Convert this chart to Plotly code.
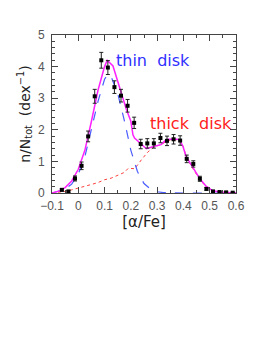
import plotly.graph_objects as go

# observed data points
obs_x = [-0.0625, -0.0375, -0.0125, 0.0125, 0.0375, 0.0625, 0.0875, 0.1125, 0.1375,
         0.1625, 0.1875, 0.2125, 0.2375, 0.2625, 0.2875, 0.3125, 0.3375, 0.3625,
         0.3875, 0.4125, 0.4375, 0.4625, 0.4875, 0.5125, 0.5375, 0.5625, 0.5875]
obs_y = [0.10, 0.05, 0.46, 0.86, 1.79, 3.06, 4.20, 3.97, 3.35,
         3.08, 2.76, 2.22, 1.55, 1.57, 1.57, 1.74, 1.65, 1.70,
         1.66, 1.08, 0.92, 0.45, 0.13, 0.05, 0.03, 0.02, 0.01]
obs_err = [0.04, 0.03, 0.08, 0.12, 0.17, 0.22, 0.25, 0.22, 0.2,
           0.2, 0.2, 0.18, 0.15, 0.15, 0.15, 0.15, 0.15, 0.15,
           0.15, 0.12, 0.1, 0.08, 0.04, 0.03, 0.02, 0.02, 0.01]

# thin disk model (blue dashed)
thin_x = [-0.1, -0.075, -0.05, -0.025, 0.0, 0.025, 0.05, 0.075, 0.1, 0.1125, 0.125,
          0.15, 0.175, 0.2, 0.225, 0.25, 0.275, 0.3, 0.325, 0.35, 0.4, 0.5, 0.6]
thin_y = [0.0, 0.05, 0.12, 0.28, 0.6, 1.15, 2.0, 2.9, 3.6, 3.75, 3.68,
          3.15, 2.3, 1.35, 0.68, 0.3, 0.12, 0.04, 0.01, 0.0, 0.0, 0.0, 0.0]

# thick disk model (red dotted)
thick_x = [-0.1, -0.075, -0.05, -0.025, 0.0, 0.025, 0.05, 0.075, 0.1, 0.125, 0.15,
           0.175, 0.19, 0.2, 0.215, 0.24, 0.265, 0.29, 0.315, 0.34, 0.365, 0.385,
           0.4, 0.41, 0.435, 0.46, 0.485, 0.51, 0.55, 0.6]
thick_y = [0.0, 0.02, 0.05, 0.1, 0.15, 0.2, 0.27, 0.33, 0.42, 0.47, 0.55,
           0.65, 0.78, 0.78, 0.77, 1.05, 1.3, 1.47, 1.53, 1.66, 1.69, 1.67,
           1.46, 1.15, 0.78, 0.46, 0.2, 0.07, 0.02, 0.0]

# total model (magenta)
tot_x = [-0.1, -0.075, -0.05, -0.025, 0.0, 0.025, 0.05, 0.075, 0.1, 0.11, 0.132,
         0.163, 0.183, 0.2, 0.208, 0.214, 0.24, 0.259, 0.29, 0.315, 0.335, 0.367,
         0.385, 0.398, 0.41, 0.436, 0.461, 0.487, 0.512, 0.55, 0.6]
tot_y = [0.0, 0.06, 0.17, 0.38, 0.75, 1.35, 2.27, 3.25, 4.0, 4.2, 4.02,
         3.16, 2.64, 2.27, 1.84, 1.74, 1.53, 1.40, 1.48, 1.53, 1.69, 1.71,
         1.69, 1.48, 1.16, 0.79, 0.47, 0.21, 0.07, 0.02, 0.0]

x_ticks = [-0.1, 0.0, 0.1, 0.2, 0.3, 0.4, 0.5, 0.6]
x_ticklabels = ["\u22120.1", "0", "0.1", "0.2", "0.3", "0.4", "0.5", "0.6"]
y_ticks = [0, 1, 2, 3, 4, 5]

fig = go.Figure()
fig.add_trace(go.Scatter(x=thick_x, y=thick_y, mode="lines",
                         line=dict(color="#ff4040", width=1, dash="dot")))
fig.add_trace(go.Scatter(x=thin_x, y=thin_y, mode="lines",
                         line=dict(color="#4a5cff", width=1.2, dash="dash")))
fig.add_trace(go.Scatter(x=tot_x, y=tot_y, mode="lines",
                         line=dict(color="#ff20ff", width=1.5)))
fig.add_trace(go.Scatter(x=obs_x, y=obs_y, mode="markers",
                         marker=dict(color="black", size=4, symbol="square"),
                         error_y=dict(type="data", array=obs_err, color="#222",
                                      thickness=1, width=2)))

fig.add_annotation(x=0.285, y=4.2, text="thin  disk", showarrow=False,
                   font=dict(color="#3030ff", size=16, family="DejaVu Sans"))
fig.add_annotation(x=0.43, y=2.2, text="thick  disk", showarrow=False,
                   font=dict(color="#ff2020", size=16, family="DejaVu Sans"))

axis_common = dict(showline=True, linecolor="#444", linewidth=1, mirror="ticks",
                   ticks="inside", tickcolor="#444", ticklen=6, showgrid=False,
                   zeroline=False,
                   tickfont=dict(size=12, color="#555", family="Liberation Sans"))

fig.update_xaxes(range=[-0.1, 0.6], tickvals=x_ticks, ticktext=x_ticklabels,
                 minor=dict(dtick=0.05, ticks="inside", ticklen=3, tickcolor="#444"),
                 ticklabelstandoff=2,
                 title=dict(text="[\u03b1/Fe]", font=dict(size=15, color="#222",
                                                       family="DejaVu Sans"),
                            standoff=0),
                 **axis_common)
fig.update_yaxes(range=[0, 5], tickvals=y_ticks,
                 minor=dict(dtick=0.2, ticks="inside", ticklen=3, tickcolor="#444"),
                 ticklabelstandoff=4,
                 title=dict(text="n/N<sub>tot</sub>  (dex<sup>\u22121</sup>)",
                            font=dict(size=14, color="#222", family="DejaVu Sans"),
                            standoff=4),
                 **axis_common)

fig.update_layout(width=259, height=345, showlegend=False,
                  paper_bgcolor="white", plot_bgcolor="white",
                  margin=dict(l=44, r=31, t=27, b=160))

fig.write_html("out.html")
